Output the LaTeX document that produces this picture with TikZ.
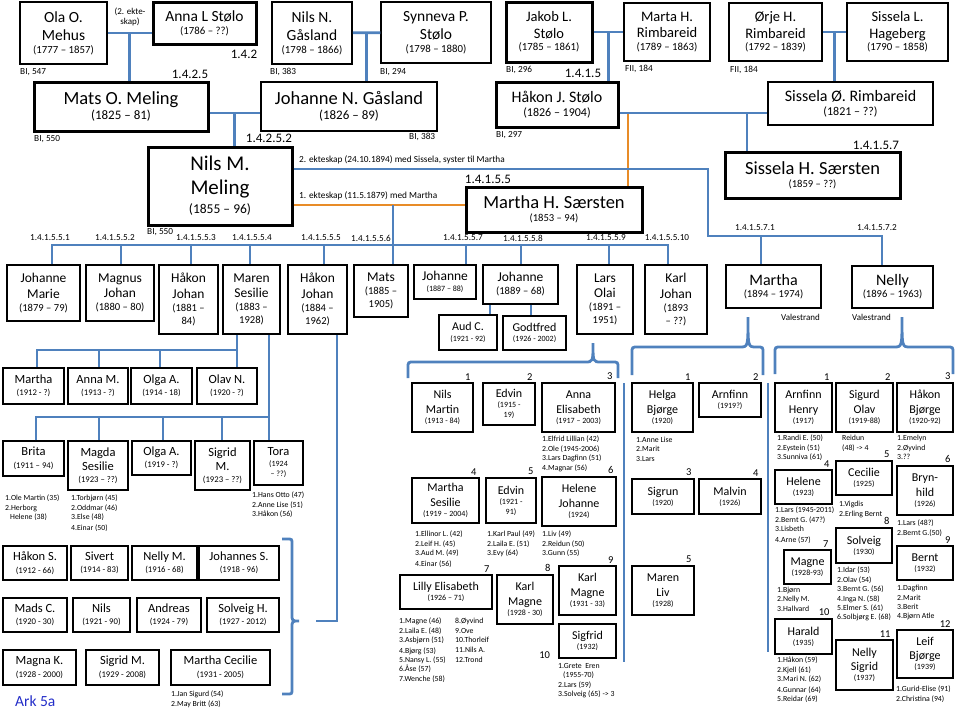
\documentclass[tikz,border=0pt]{standalone}
\usepackage{fontspec}
\setmainfont{Carlito}
\usetikzlibrary{positioning}
\definecolor{lblue}{RGB}{79,129,189}
\definecolor{lorange}{RGB}{232,140,40}
\definecolor{arkblue}{RGB}{35,45,200}
% name sizes
\newcommand{\nA}{\fontsize{15.5}{18}\selectfont}
\newcommand{\nB}{\fontsize{14.5}{16.5}\selectfont}
\newcommand{\nC}{\fontsize{18.5}{22}\selectfont}
\newcommand{\nD}{\fontsize{16}{19}\selectfont}
\newcommand{\nE}{\fontsize{21}{24}\selectfont}
\newcommand{\nF}{\fontsize{13.5}{15.5}\selectfont}
\newcommand{\nG}{\fontsize{16}{19}\selectfont}
\newcommand{\nH}{\fontsize{12.5}{14.5}\selectfont}
\newcommand{\nI}{\fontsize{12}{14.5}\selectfont}
% year sizes
\newcommand{\yrA}[1]{{\fontsize{10.8}{12}\selectfont #1}}
\newcommand{\yrB}[1]{{\fontsize{13}{15}\selectfont #1}}
\newcommand{\yrC}[1]{{\fontsize{12}{14}\selectfont #1}}
\newcommand{\yrD}[1]{{\fontsize{13.5}{15}\selectfont #1}}
\newcommand{\yrE}[1]{{\fontsize{10.6}{12}\selectfont #1}}
\newcommand{\yrF}[1]{{\fontsize{8}{9}\selectfont #1}}
\newcommand{\yrG}[1]{{\fontsize{8.7}{10}\selectfont #1}}
% box from corner to corner
\newcommand{\pers}[7][]{\node[box,#1,minimum width={#5-#3},minimum height={#6-#4}] (#2) at ({(#3+#5)/2},{(#4+#6)/2}) {#7};}
% brace pointing up
\newcommand{\upbrace}[6]{\draw[link] (#1,#4) -- (#1,#5+6) .. controls (#1,#5) .. (#1+6,#5) -- (#2-8,#5) .. controls (#2,#5) .. (#2,#6) .. controls (#2,#5) .. (#2+8,#5) -- (#3-6,#5) .. controls (#3,#5) .. (#3,#5+6) -- (#3,#4);}

\begin{document}
\begin{tikzpicture}[x=1pt,y=-1pt,
  box/.style={draw, line width=1.5pt, align=center, inner sep=1pt},
  heavy/.style={line width=3pt},
  link/.style={draw=lblue, line width=2.8pt},
  olink/.style={draw=lorange, line width=2.8pt},
  ref/.style={font=\fontsize{9.3}{11}\selectfont, inner sep=0pt, anchor=west},
  code/.style={font=\fontsize{13}{15}\selectfont, inner sep=0pt},
  subcode/.style={font=\fontsize{9.2}{11}\selectfont, inner sep=0pt},
  lst/.style={anchor=north west, align=left, font=\fontsize{7.8}{9.4}\selectfont, inner sep=0pt},
  numlab/.style={anchor=south east, font=\fontsize{10.5}{12}\selectfont, inner sep=1pt, xshift=-2pt, yshift=1pt}]

\useasboundingbox (0,0) rectangle (960,712);

% oldest generation
\pers[font=\nA]{ola}{20}{2}{107}{64}{Ola O.\\Mehus\\[-5pt]\yrA{(1777 – 1857)}}
\pers[heavy,font=\nA]{anna}{153}{2}{256}{44}{Anna L Stølo\\[-5pt]\yrA{(1786 – ??)}}
\pers[font=\nA]{nilsn}{272}{2}{352}{64}{Nils N.\\Gåsland\\[-5pt]\yrA{(1798 – 1866)}}
\pers[font=\nA]{synneva}{381}{2}{491}{63}{Synneva P.\\Stølo\\[-5pt]\yrA{(1798 – 1880)}}
\pers[heavy,font=\nB]{jakob}{506}{2}{592}{62}{Jakob L.\\Stølo\\[-4pt]\yrA{(1785 – 1861)}}
\pers[font=\nB]{marta}{624}{3}{710}{61}{Marta H.\\Rimbareid\\[-4pt]\yrA{(1789 – 1863)}}
\pers[font=\nB]{orje}{729}{3}{822}{61}{Ørje H.\\Rimbareid\\[-4pt]\yrA{(1792 – 1839)}}
\pers[font=\nB]{sisselal}{847}{3}{948}{61}{Sissela L.\\Hageberg\\[-4pt]\yrA{(1790 – 1858)}}
\node[ref, anchor=center, align=center, font=\fontsize{9}{10.5}\selectfont] (ekteskap) at (130,17) {(2. ekte-\\skap)};
\node[ref] (bi547) at (20,72) {BI, 547};
\node[ref] (bi383) at (270,72) {BI, 383};
\node[ref] (bi294) at (380,72) {BI, 294};
\node[ref] (bi296) at (506,70) {BI, 296};
\node[ref] (fii184a) at (625,69) {FII, 184};
\node[ref] (fii184b) at (730,70) {FII, 184};
\node[code] (c142) at (244,54) {1.4.2};
\node[code] (c1425) at (190,74) {1.4.2.5};
\node[code] (c1415) at (583,73) {1.4.1.5};

% second generation
\pers[heavy,font=\nC]{mats}{34}{82}{208}{131}{Mats O. Meling\\[-7pt]\yrB{(1825 – 81)}}
\pers[font=\nC]{johanneg}{261}{82}{437}{131}{Johanne N. Gåsland\\[-7pt]\yrB{(1826 – 89)}}
\pers[heavy,font=\nD]{hakonj}{496}{82}{618}{127}{Håkon J. Stølo\\[-5pt]\yrC{(1826 – 1904)}}
\pers[font=\nD]{sisselao}{768}{82}{933}{125}{Sissela Ø. Rimbareid\\[-5pt]\yrC{(1821 – ??)}}
\node[ref] (bi550a) at (34,139) {BI, 550};
\node[ref] (bi383b) at (409,137) {BI, 383};
\node[ref] (bi297) at (496,135) {BI, 297};
\node[code] (c14252) at (269,138) {1.4.2.5.2};
\node[code] (c14157) at (876,145) {1.4.1.5.7};
\node[code] (c14155) at (488,179) {1.4.1.5.5};

% third generation
\pers[heavy,font=\nE]{nilsm}{148}{147}{292}{225}{Nils M.\\Meling\\[-5pt]\yrD{(1855 – 96)}}
\pers[heavy,font=\nC]{marthah}{466}{187}{642}{232}{Martha H. Særsten\\[-9pt]\yrE{(1853 – 94)}}
\pers[heavy,font=\nC]{sisselah}{725}{152}{900}{198}{Sissela H. Særsten\\[-9pt]\yrE{(1859 – ??)}}
\node[ref] (bi550b) at (147,232) {BI, 550};
\node[ref] (ekt2) at (299,160) {2. ekteskap (24.10.1894) med Sissela, syster til Martha};
\node[ref] (ekt1) at (299,196) {1. ekteskap (11.5.1879) med Martha};
\foreach \x/\t in {50/1.4.1.5.5.1, 115/1.4.1.5.5.2, 196/1.4.1.5.5.3, 252/1.4.1.5.5.4, 321/1.4.1.5.5.5, 371/1.4.1.5.5.6, 463/1.4.1.5.5.7, 523/1.4.1.5.5.8, 606/1.4.1.5.5.9, 667/1.4.1.5.5.10}
  \node[subcode] (sc\x) at (\x,238) {\t};
\node[subcode] (sc71) at (755,228) {1.4.1.5.7.1};
\node[subcode] (sc72) at (877,228) {1.4.1.5.7.2};

% children of Nils M.
\pers[font=\nF]{jmarie}{7}{265}{80}{321}{Johanne\\Marie\\[-2.5pt]\yrE{(1879 – 79)}}
\pers[font=\nF]{mjohan}{86}{265}{154}{321}{Magnus\\Johan\\[-2.5pt]\yrE{(1880 – 80)}}
\pers[font=\nF]{hjohan}{159}{265}{218}{334}{Håkon\\Johan\\[-2.5pt]\yrE{(1881 –}\\[-2.5pt]\yrE{84)}}
\pers[font=\nF]{maren}{223}{265}{280}{334}{Maren\\Sesilie\\[-2.5pt]\yrE{(1883 –}\\[-2.5pt]\yrE{1928)}}
\pers[font=\nF]{hjohanb}{288}{265}{347}{334}{Håkon\\Johan\\[-2.5pt]\yrE{(1884 –}\\[-2.5pt]\yrE{1962)}}
\pers[font=\nF]{matsb}{354}{265}{408}{317}{Mats\\[-2.5pt]\yrE{(1885 –}\\[-2.5pt]\yrE{1905)}}
\pers[font=\nF]{johannec}{414}{265}{476}{299}{Johanne\\[-5pt]\yrF{(1887 – 88)}}
\pers[font=\nF]{johanned}{483}{265}{558}{304}{Johanne\\[-2.5pt]\yrE{(1889 – 68)}}
\pers[font=\nI]{aud}{439}{315}{497}{350}{Aud C.\\[-4pt]\yrF{(1921 - 92)}}
\pers[font=\nI]{godtfred}{503}{316}{566}{350}{Godtfred\\[-4pt]\yrF{(1926 - 2002)}}
\pers[font=\nF]{larsolai}{577}{265}{633}{334}{Lars\\Olai\\[-2.5pt]\yrE{(1891 –}\\[-2.5pt]\yrE{1951)}}
\pers[font=\nF]{karlj}{645}{265}{707}{334}{Karl\\Johan\\[-2.5pt]\yrE{(1893}\\[-2.5pt]\yrE{– ??)}}
\pers[font=\nG]{martha}{726}{265}{821}{308}{Martha\\[-7pt]\yrE{(1894 – 1974)}}
\pers[font=\nG]{nelly}{852}{266}{933}{308}{Nelly\\[-7pt]\yrE{(1896 – 1963)}}
\node[ref, font=\fontsize{9}{10}\selectfont] (vale1) at (781,317) {Valestrand};
\node[ref, font=\fontsize{9}{10}\selectfont] (vale2) at (852,317) {Valestrand};

% children of Maren Sesilie
\pers[font=\nH]{marthaa}{3}{368}{64}{404}{Martha\\[-2pt]\yrG{(1912 - ?)}}
\pers[font=\nH]{annam}{68}{368}{128}{404}{Anna M.\\[-2pt]\yrG{(1913 - ?)}}
\pers[font=\nH]{olgaa}{131}{368}{192}{404}{Olga A.\\[-2pt]\yrG{(1914 - 18)}}
\pers[font=\nH]{olav}{197}{368}{257}{404}{Olav N.\\[-2pt]\yrG{(1920 - ?)}}
\pers[font=\nH]{brita}{3}{441}{64}{476}{Brita\\[-2pt]\yrG{(1911 – 94)}}
\pers[font=\nH]{magda}{68}{441}{128}{490}{Magda\\Sesilie\\[-3pt]\yrG{(1923 – ??)}}
\pers[font=\nH]{olgab}{132}{441}{191}{475}{Olga A.\\[-2pt]\yrG{(1919 - ?)}}
\pers[font=\nH]{sigrida}{195}{441}{250}{490}{Sigrid\\M.\\[-3pt]\yrG{(1923 – ??)}}
\pers[font=\nH]{tora}{254}{441}{303}{485}{Tora\\[-4pt]\yrF{(1924}\\[-4pt]\yrF{– ??)}}
\node[lst] (lbrita) at (5,495) {1.Ole Martin (35)\\2.Herborg\\\hspace*{5pt}Helene (38)};
\node[lst] (lmagda) at (71,495) {1.Torbjørn (45)\\2.Oddmar (46)\\3.Else (48)\\[1pt]4.Einar (50)};
\node[lst] (ltora) at (252,492) {1.Hans Otto (47)\\2.Anne Lise (51)\\3.Håkon (56)};

% children of Håkon Johan
\pers[font=\nH]{hakons}{3}{546}{67}{580}{Håkon S.\\[-2pt]\yrG{(1912 - 66)}}
\pers[font=\nH]{sivert}{71}{546}{128}{580}{Sivert\\[-2pt]\yrG{(1914 - 83)}}
\pers[font=\nH]{nellym}{132}{546}{197}{580}{Nelly M.\\[-2pt]\yrG{(1916 - 68)}}
\pers[font=\nH]{johs}{199}{546}{279}{580}{Johannes S.\\[-2pt]\yrG{(1918 - 96)}}
\pers[font=\nH]{mads}{3}{598}{67}{632}{Mads C.\\[-2pt]\yrG{(1920 - 30)}}
\pers[font=\nH]{nilsb}{73}{598}{130}{632}{Nils\\[-2pt]\yrG{(1921 - 90)}}
\pers[font=\nH]{andreas}{137}{598}{201}{632}{Andreas\\[-2pt]\yrG{(1924 - 79)}}
\pers[font=\nH]{solveigh}{207}{598}{279}{632}{Solveig H.\\[-2pt]\yrG{(1927 - 2012)}}
\pers[font=\nH]{magna}{3}{650}{76}{685}{Magna K.\\[-2pt]\yrG{(1928 - 2000)}}
\pers[font=\nH]{sigridb}{86}{650}{159}{685}{Sigrid M.\\[-2pt]\yrG{(1929 - 2008)}}
\pers[font=\nH]{marthac}{171}{650}{270}{685}{Martha Cecilie\\[-2pt]\yrG{(1931 - 2005)}}
\node[lst] (lmarthac) at (171,691) {1.Jan Sigurd (54)\\2.May Britt (63)};
\node[font=\fontsize{15.5}{18}\selectfont, text=arkblue, anchor=west, inner sep=0pt] (ark) at (15,701) {Ark 5a};

% children of Lars Olai
\pers[font=\nI]{nilsmartin}{412}{383}{473}{432}{Nils\\Martin\\[-4.5pt]\yrF{(1913 - 84)}}
\pers[font=\nI]{edvina}{483}{383}{535}{425}{Edvin\\[-4.5pt]\yrF{(1915 -}\\[-4.5pt]\yrF{19)}}
\pers[font=\nI]{annael}{542}{383}{615}{432}{Anna\\Elisabeth\\[-4.5pt]\yrF{(1917 – 2003)}}
\pers[font=\nI]{marthase}{412}{478}{479}{523}{Martha\\Sesilie\\[-4.5pt]\yrF{(1919 – 2004)}}
\pers[font=\nI]{edvinb}{486}{478}{536}{523}{Edvin\\[-4.5pt]\yrF{(1921 -}\\[-4.5pt]\yrF{91)}}
\pers[font=\nI]{helenej}{542}{477}{616}{526}{Helene\\Johanne\\[-4.5pt]\yrF{(1924)}}
\pers[font=\nI]{lilly}{400}{575}{492}{609}{Lilly Elisabeth\\[-4.5pt]\yrF{(1926 – 71)}}
\pers[font=\nI]{karlma}{497}{575}{553}{624}{Karl\\Magne\\[-4.5pt]\yrF{(1928 - 30)}}
\pers[font=\nI]{karlmb}{559}{566}{616}{615}{Karl\\Magne\\[-4.5pt]\yrF{(1931 - 33)}}
\pers[font=\nI]{sigfrid}{559}{624}{616}{658}{Sigfrid\\[-4.5pt]\yrF{(1932)}}
\node[lst] (lannael) at (542,436) {1.Elfrid Lillian (42)\\2.Ole (1945-2006)\\3.Lars Dagfinn (51)\\4.Magnar (56)};
\node[lst] (lmarthase) at (415,531) {1.Ellinor L. (42)\\2.Leif H. (45)\\3.Aud M. (49)\\[1pt]4.Einar (56)};
\node[lst] (ledvinb) at (487,531) {1.Karl Paul (49)\\2.Laila E. (51)\\3.Evy (64)};
\node[lst] (lhelenej) at (542,531) {1.Liv (49)\\2.Reidun (50)\\3.Gunn (55)};
\node[lst] (llillya) at (399,618) {1.Magne (46)\\2.Laila E. (48)\\3.Asbjørn (51)\\[1pt]4.Bjørg (53)\\5.Nansy L. (55)\\6.Åse (57)\\7.Wenche (58)};
\node[lst] (llillyb) at (455,618) {8.Øyvind\\9.Ove\\10.Thorleif\\[1pt]11.Nils A.\\12.Trond};
\node[lst] (lsigfrid) at (558,663) {1.Grete\ \ Eren\\\hspace*{5pt}(1955-70)\\2.Lars (59)\\3.Solveig (65) -> 3};

% children of Martha
\pers[font=\nI]{helga}{632}{383}{693}{432}{Helga\\Bjørge\\[-4.5pt]\yrF{(1920)}}
\pers[font=\nI]{arnfinn}{699}{383}{761}{417}{Arnfinn\\[-4.5pt]\yrF{(1919?)}}
\pers[font=\nI]{sigrun}{632}{479}{694}{514}{Sigrun\\[-4.5pt]\yrF{(1920)}}
\pers[font=\nI]{malvin}{699}{479}{761}{514}{Malvin\\[-4.5pt]\yrF{(1926)}}
\pers[font=\nI]{marenliv}{632}{566}{694}{615}{Maren\\Liv\\[-4.5pt]\yrF{(1928)}}
\node[lst] (lhelga) at (636,437) {1.Anne Lise\\2.Marit\\3.Lars};

% children of Nelly
\pers[font=\nI]{arnfinnh}{775}{383}{832}{432}{Arnfinn\\Henry\\[-4.5pt]\yrF{(1917)}}
\pers[font=\nI]{sigurd}{836}{383}{893}{432}{Sigurd\\Olav\\[-4.5pt]\yrF{(1919-88)}}
\pers[font=\nI]{hakonb}{897}{383}{953}{432}{Håkon\\Bjørge\\[-4.5pt]\yrF{(1920-92)}}
\pers[font=\nI]{helene}{775}{470}{832}{504}{Helene\\[-4.5pt]\yrF{(1923)}}
\pers[font=\nI]{cecilie}{836}{461}{892}{495}{Cecilie\\[-4.5pt]\yrF{(1925)}}
\pers[font=\nI]{brynhild}{897}{466}{953}{515}{Bryn-\\hild\\[-4.5pt]\yrF{(1926)}}
\pers[font=\nI]{magne}{784}{550}{831}{584}{Magne\\[-4.5pt]\yrF{(1928-93)}}
\pers[font=\nI]{solveig}{836}{528}{892}{563}{Solveig\\[-4.5pt]\yrF{(1930)}}
\pers[font=\nI]{bernt}{897}{546}{953}{580}{Bernt\\[-4.5pt]\yrF{(1932)}}
\pers[font=\nI]{harald}{775}{619}{832}{654}{Harald\\[-4.5pt]\yrF{(1935)}}
\pers[font=\nI]{nellys}{836}{640}{893}{690}{Nelly\\Sigrid\\[-4.5pt]\yrF{(1937)}}
\pers[font=\nI]{leif}{897}{630}{953}{678}{Leif\\Bjørge\\[-4.5pt]\yrF{(1939)}}
\node[lst] (larnfinnh) at (777,435) {1.Randi E. (50)\\2.Eystein (51)\\3.Sunniva (61)};
\node[lst] (lsigurd) at (842,435) {Reidun\\(48) -> 4};
\node[lst] (lhakonb) at (897,435) {1.Emelyn\\2.Øyvind\\3.??};
\node[lst] (lhelene) at (775,507) {1.Lars (1945-2011)\\2.Bernt G. (47?)\\3.Lisbeth\\[1pt]4.Arne (57)};
\node[lst] (lcecilie) at (839,501) {1.Vigdis\\2.Erling Bernt};
\node[lst] (lbrynhild) at (897,520) {1.Lars (48?)\\2.Bernt G.(50)};
\node[lst] (lmagne) at (777,587) {1.Bjørn\\2.Nelly M.\\3.Hallvard};
\node[lst] (lsolveig) at (837,567) {1.Idar (53)\\2.Olav (54)\\3.Bernt G. (56)\\4.Inga N. (58)\\5.Elmer S. (61)\\6.Solbjørg E. (68)};
\node[lst] (lbernt) at (897,585) {1.Dagfinn\\2.Marit\\3.Berit\\4.Bjørn Atle};
\node[lst] (lharald) at (777,657) {1.Håkon (59)\\2.Kjell (61)\\3.Mari N. (62)\\[1pt]4.Gunnar (64)\\5.Reidar (69)};
\node[lst] (lleif) at (896,686) {1.Gurid-Elise (91)\\2.Christina (94)};

% birth order
\foreach \b/\n in {nilsmartin/1, edvina/2, annael/3, marthase/4, edvinb/5, helenej/6, lilly/7, karlma/8, karlmb/9,
  helga/1, arnfinn/2, sigrun/3, malvin/4, marenliv/5,
  arnfinnh/1, sigurd/2, hakonb/3, helene/4, cecilie/5, brynhild/6, magne/7, solveig/8, bernt/9, harald/10, nellys/11, leif/12}
  \node[numlab] (num-\b) at (\b.north east) {\n};
\node[numlab, yshift=-2pt] (num-sigfrid) at ([xshift=-5pt]sigfrid.south west) {10};

% marriages
\draw[olink] (nilsm.east |- 0,205) -- (marthah.west |- 0,205);
\coordinate (hm) at (628,113);
\draw[olink] (hm) -- (hm |- marthah.north);
\draw[link] (ola.east) -- coordinate (oa) (ola.east -| anna.west);
\draw[link] (oa) -- (oa |- mats.north);
\draw[link] (nilsn) -- coordinate (ns) (synneva);
\draw[link] (ns) -- (ns |- johanneg.north);
\draw[link] (jakob) -- coordinate (jm) (marta);
\draw[link] (jm) -- (jm |- hakonj.north);
\draw[link] (orje) -- coordinate (os) (sisselal);
\draw[link] (os) -- (os |- sisselao.north);
\draw[link] (mats.east |- 0,113) -- coordinate (mg) (johanneg.west |- 0,113);
\draw[link] (mg) -- (mg |- nilsm.north);
\draw[link] (hakonj.east |- 0,113) -- (sisselao.west |- 0,113);
\coordinate (hs) at (747,113);
\draw[link] (hs) -- (hs |- sisselah.north);
\draw[link] (nilsm.east |- 0,169) -- (708,169) -- (708,236) -- (882,236) -- (nelly.north -| 882,0);
\draw[link] (761,236) -- (martha.north -| 761,0);
\draw[link] (393,205) -- (matsb.north -| 393,0);

% children bar
\draw[link] (jmarie.north -| 52,0) -- (52,245) -- (668,245) -- (karlj.north -| 668,0);
\foreach \c/\x in {mjohan/121, hjohan/191, maren/250, hjohanb/324, johannec/466, johanned/521, larsolai/609}
  \draw[link] (\x,245) -- (\c.north -| \x,0);
\draw[link] (johanned.south -| 490,0) -- (aud.north -| 490,0);
\draw[link] (johanned.south -| 531,0) -- (godtfred.north -| 531,0);

% Maren Sesilie
\draw[link] (maren.south -| 237,0) -- (olav.north -| 237,0);
\draw[link] (marthaa.north -| 37,0) -- (37,350) -- (237,350);
\foreach \c/\x in {annam/99, olgaa/160}
  \draw[link] (\x,350) -- (\c.north -| \x,0);
\draw[link] (maren.south -| 269,0) -- (tora.north -| 269,0);
\draw[link] (brita.north -| 36,0) -- (36,417) -- (269,417);
\foreach \c/\x in {magda/99, olgab/163, sigrida/222}
  \draw[link] (\x,417) -- (\c.north -| \x,0);

% Håkon Johan
\draw[link] (282,539) -- (287,539) .. controls (292,539) .. (292,544) -- (292,614) .. controls (292,621) .. (299,621) .. controls (292,621) .. (292,628) -- (292,689) .. controls (292,694) .. (287,694) -- (282,694);
\coordinate (bracetip) at (316,621);
\draw[link] (bracetip) -- (337,621) -- (hjohanb.south -| 337,0);

% braces over the grandchildren
\upbrace{408}{593}{618}{378}{362}{343}
\upbrace{632}{748}{763}{375}{347}{317}
\upbrace{775}{902}{953}{374}{347}{317}
\draw[link] (624,383) -- (624,662);
\draw[link] (768,383) -- (768,652);
\end{tikzpicture}
\end{document}
